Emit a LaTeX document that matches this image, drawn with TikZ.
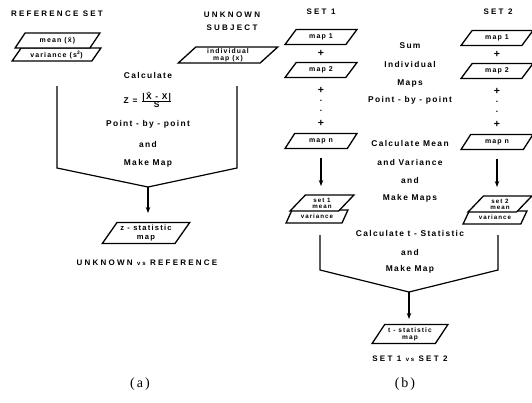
\documentclass[tikz,border=0pt]{standalone}
\usepackage{fontspec}
\setmainfont{Liberation Serif}
\newfontfamily\bodyf{Liberation Sans}[LetterSpace=16]
\newfontfamily\capsf{Liberation Sans}[LetterSpace=28]
\usetikzlibrary{shapes.geometric,arrows.meta}
\begin{document}
\begin{tikzpicture}[x=1pt,y=-1pt,
  ln/.style={line width=1.2pt},
  body/.style={font=\bodyf\bfseries\fontsize{8.4}{9}\selectfont, inner sep=0pt, align=center},
  plus/.style={font=\bodyf\bfseries\fontsize{10.5}{11}\selectfont, inner sep=0pt},
  capt/.style={font=\capsf\bfseries\fontsize{8}{13}\selectfont, inner sep=0pt, align=center},
  mapbox/.style={trapezium, trapezium left angle=50, trapezium right angle=130,
    trapezium stretches=true, draw, line width=1.3pt, fill=white, inner sep=0pt,
    minimum width=72pt, minimum height=15pt,
    font=\bodyf\bfseries\fontsize{7}{7}\selectfont, align=center},
  arr/.style={ln,-{Stealth[length=6pt,width=4.5pt]}},
  sublab/.style={font=\fontsize{14}{16}\selectfont, inner sep=0pt}]
\useasboundingbox[fill=white] (0,0) rectangle (532,402);

% ---------------- panel (a) ----------------
\node[capt] (refset) at (57,14) {REFERENCE SET};
\node[capt] (unk) at (232,21) {UNKNOWN\\SUBJECT};
\node[mapbox, minimum width=89pt, minimum height=13pt] (var) at (56.5,54.5) {variance (s\textsuperscript{2})};
\node[mapbox, minimum width=85pt, minimum height=15pt] (mean) at (57.5,40.5) {mean (\={x})};
\node[mapbox, minimum width=100pt, minimum height=16pt, font=\bodyf\bfseries\fontsize{6.8}{7.2}\selectfont] (indiv) at (228,55) {individual\\map (x)};

\node[body] (calc) at (148,75) {Calculate};
\node[body] (zform) at (148,100) {Z = $\frac{\mbox{|\={X} - X|}}{\mbox{S}}$};
\node[body] (pbp) at (148,124) {Point - by - point};
\node[body] (anda) at (148,144) {and};
\node[body] (mma) at (148,163) {Make Map};

\coordinate (a1) at (57,86);
\coordinate (a2) at (57,168);
\coordinate (a3) at (237,86);
\coordinate (a4) at (237,168);
\coordinate (ac) at (148,187);
\coordinate (ae) at (148,213);
\draw[ln] (a1) -- (a2) -- (ac) -- (a4) -- (a3);
\draw[arr] (ac) -- (ae);

\node[mapbox, minimum width=88pt, minimum height=21pt, font=\bodyf\bfseries\fontsize{7.6}{8.5}\selectfont] (zmap) at (146,233) {z - statistic\\map};
\node[capt] (uvr) at (147,263) {UNKNOWN {\fontsize{6}{6}\selectfont vs} REFERENCE};
\node[sublab] (la) at (140,384) {(\kern2pt a\kern2pt)};

% ---------------- panel (b) ----------------
\node[capt] (set1) at (321,12) {SET 1};
\node[capt] (set2) at (498,12) {SET 2};

\node[mapbox] (l1) at (321,37) {map 1};
\node[plus] (lp1) at (321,53) {+};
\node[mapbox] (l2) at (321,70) {map 2};
\node[plus] (lp2) at (321,90) {+};
\node[body] (ld1) at (321,101) {.};
\node[body] (ld2) at (321,111) {.};
\node[plus] (lp3) at (321,123) {+};
\node[mapbox] (ln) at (321,141) {map n};

\node[mapbox] (r1) at (497,38) {map 1};
\node[plus] (rp1) at (497,54) {+};
\node[mapbox] (r2) at (497,71) {map 2};
\node[plus] (rp2) at (497,91) {+};
\node[body] (rd1) at (497,102) {.};
\node[body] (rd2) at (497,112) {.};
\node[plus] (rp3) at (497,124) {+};
\node[mapbox] (rn) at (497,142) {map n};

\coordinate (la1) at (321,158);
\coordinate (la2) at (321,186);
\coordinate (ra1) at (497,159);
\coordinate (ra2) at (497,187);
\draw[arr] (la1) -- (la2);
\draw[arr] (ra1) -- (ra2);

\node[mapbox, minimum width=62pt, minimum height=13pt, font=\bodyf\bfseries\fontsize{6.2}{6}\selectfont] (lvar) at (317,216.5) {variance};
\node[mapbox, minimum width=64pt, minimum height=16pt, font=\bodyf\bfseries\fontsize{6.2}{6.2}\selectfont] (lmean) at (322,203) {set 1\\mean};
\node[mapbox, minimum width=64pt, minimum height=13pt, font=\bodyf\bfseries\fontsize{6.2}{6}\selectfont] (rvar) at (495,217.5) {variance};
\node[mapbox, minimum width=64pt, minimum height=16pt, font=\bodyf\bfseries\fontsize{6.2}{6.2}\selectfont] (rmean) at (500,204) {set 2\\mean};

\node[body] (sum) at (410,46) {Sum};
\node[body] (indv) at (410,64) {Individual};
\node[body] (maps) at (410,83) {Maps};
\node[body] (pbpb) at (410,100) {Point - by - point};
\node[body] (cmean) at (410,143) {Calculate Mean};
\node[body] (andv) at (410,162) {and Variance};
\node[body] (andb) at (410,180) {and};
\node[body] (mmaps) at (410,198) {Make Maps};
\node[body] (ctst) at (410,233) {Calculate t - Statistic};
\node[body] (andc) at (410,252) {and};
\node[body] (mmb) at (410,269) {Make Map};

\coordinate (b1) at (320,235);
\coordinate (b2) at (320,270);
\coordinate (b3) at (498,235);
\coordinate (b4) at (498,270);
\coordinate (bc) at (409,292);
\coordinate (be) at (409,319);
\draw[ln] (b1) -- (b2) -- (bc) -- (b4) -- (b3);
\draw[arr] (bc) -- (be);

\node[mapbox, minimum width=76pt, minimum height=19pt, font=\bodyf\bfseries\fontsize{6.6}{6.8}\selectfont] (tmap) at (410,334) {t - statistic\\map};
\node[capt] (s1s2) at (410,359) {SET 1 {\fontsize{6}{6}\selectfont vs} SET 2};
\node[sublab] (lb) at (405,384) {(\kern2pt b\kern2pt)};
\end{tikzpicture}
\end{document}
